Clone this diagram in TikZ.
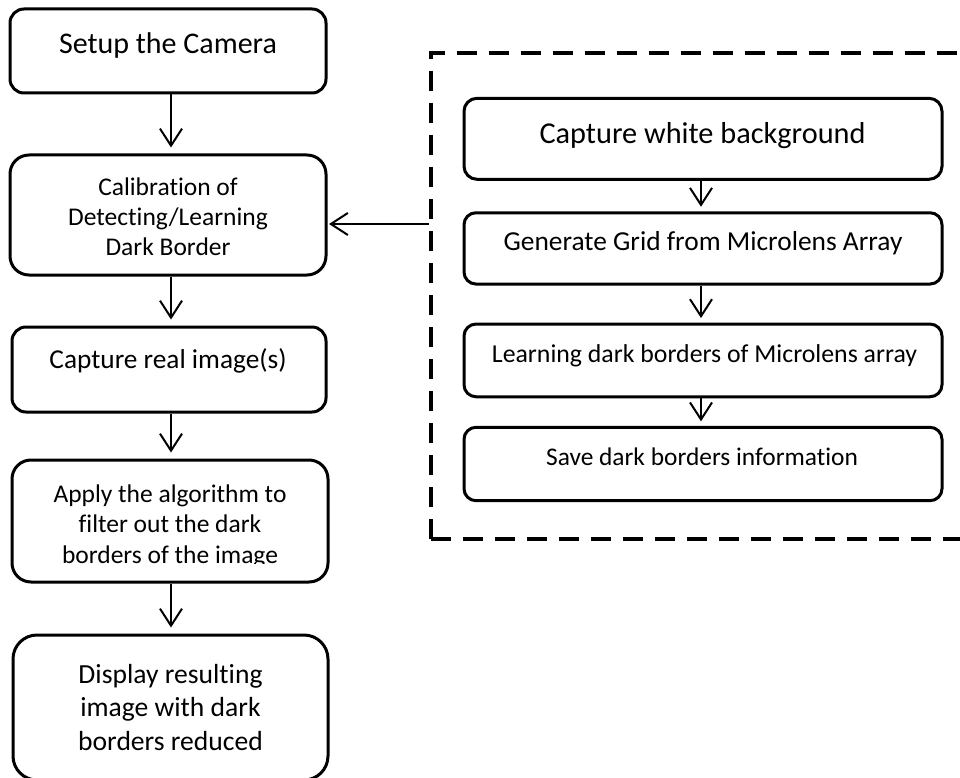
\documentclass[tikz,border=0pt]{standalone}
\usepackage{fontspec}
\setmainfont{Carlito}[Ligatures={NoCommon}]
\usetikzlibrary{arrows.meta}
\newcommand\fsz[2]{\fontsize{#1pt}{#2pt}\selectfont}
\tikzset{
  stepbox/.style={draw=black, line width=3pt, rounded corners=15pt, fill=white, inner sep=0pt},
  boxtext/.style={anchor=base, inner sep=0pt, align=center, text=black},
  flow/.style={draw=black, line width=2pt, -{Straight Barb[length=17pt,width=22pt]}, shorten >=6pt},
  calframe/.style={draw=black, line width=4.5pt, dash pattern=on 20pt off 12pt, inner sep=0pt}
}
\begin{document}
\begin{tikzpicture}[x=1pt, y=-1pt]
\clip (0,0) rectangle (960,778);
\fill[white] (0,0) rectangle (960,778);

% main flow (left column)
\node[stepbox, rounded corners=14pt, minimum width=316pt, minimum height=84pt]  (setup)   at (168,51)  {};
\node[stepbox, rounded corners=19pt, minimum width=316pt, minimum height=120pt] (calib)   at (168,215) {};
\node[stepbox, rounded corners=14pt, minimum width=314pt, minimum height=85pt]  (capreal) at (169,369.5) {};
\node[stepbox, rounded corners=19pt, minimum width=316pt, minimum height=122pt] (apply)   at (170,521) {};
\node[stepbox, rounded corners=24pt, minimum width=315pt, minimum height=145pt] (display) at (170.5,707.5) {};

% texts sit on the baseline of their last line
\node[boxtext, font=\fsz{30}{36}] (setupT) at (168,54) {Setup the Camera};
\node[boxtext, font=\fsz{25.5}{30}] (calibT) at (168,255) {Calibration of\\Detecting/Learning\\Dark Border};
\node[boxtext, font=\fsz{27.3}{33}] (caprealT) at (168,368) {Capture real image(s)};
\begin{scope}
  \clip (0,460) rectangle (340,563);
  \node[boxtext, font=\fsz{25.5}{30.5}] (applyT) at (170,563) {Apply the algorithm to\\filter out the dark\\borders of the image};
\end{scope}
\node[boxtext, font=\fsz{27.6}{33.5}] (displayT) at (170.5,750) {Display resulting\\image with dark\\borders reduced};

% calibration procedure (dashed frame)
\node[calframe, minimum width=564pt, minimum height=486pt] (frame) at (713,296) {};
\node[stepbox, rounded corners=13pt, minimum width=478pt, minimum height=81pt]   (white) at (703,138.8) {};
\node[stepbox, rounded corners=12pt, minimum width=478pt, minimum height=71.3pt] (grid)  at (703,248.4) {};
\node[stepbox, rounded corners=12pt, minimum width=478pt, minimum height=72.7pt] (learn) at (703,360.4) {};
\node[stepbox, rounded corners=12pt, minimum width=478pt, minimum height=73.4pt] (save)  at (703,464)   {};

\node[boxtext, font=\fsz{30.3}{36}] (whiteT) at (702.5,144) {Capture white background};
\node[boxtext, font=\fsz{27.4}{33}] (gridT)  at (703,250.7) {Generate Grid from Microlens Array};
\node[boxtext, font=\fsz{25.8}{31}] (learnT) at (704.5,362.7) {Learning dark borders of Microlens array};
\node[boxtext, font=\fsz{25.4}{30}] (saveT)  at (702,465.7) {Save dark borders information};

% connectors
\draw[flow] (setup.south -| 171,0) -- (calib.north -| 171,0);
\draw[flow] (calib.south -| 171,0) -- (capreal.north -| 171,0);
\draw[flow] (capreal.south -| 171,0) -- (apply.north -| 171,0);
\draw[flow] (apply.south -| 171,0) -- (display.north -| 171,0);

\draw[flow, shorten >=4.5pt] (white.south -| 701,0) -- (grid.north -| 701,0);
\draw[flow, shorten >=4.5pt] (grid.south -| 701,0) -- (learn.north -| 701,0);
\draw[flow, shorten >=4.5pt] (learn.south -| 701,0) -- (save.north -| 701,0);

\draw[flow, shorten >=1.5pt] (frame.west |- 0,224) -- (calib.east |- 0,224);
\end{tikzpicture}
\end{document}
